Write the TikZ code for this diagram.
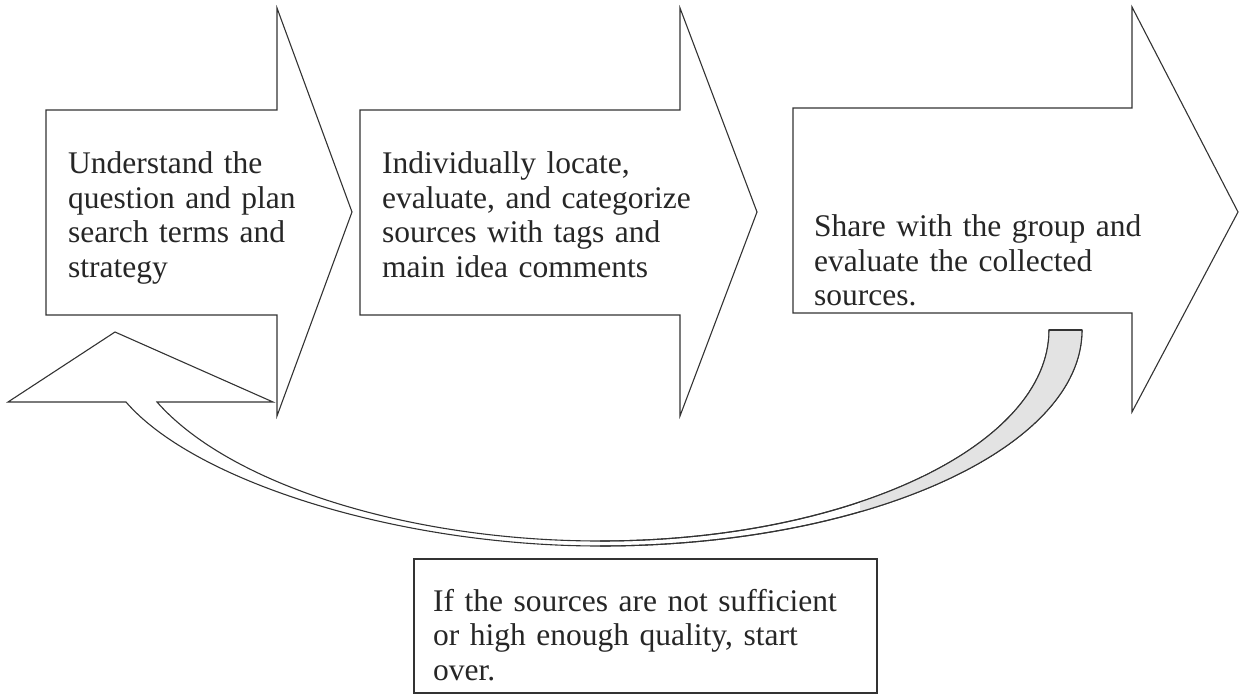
\documentclass[tikz,border=0pt]{standalone}
\usepackage{fontspec}
\setmainfont{Liberation Serif}
\begin{document}
\begin{tikzpicture}[x=1pt,y=-1pt,
  shapeline/.style={draw=black!80, line width=1.1pt, line join=miter, fill=white},
  edgeline/.style={draw=black!80, line width=1.1pt},
  bodytext/.style={anchor=base west, inner sep=0pt, align=left, text width=520pt,
    font=\fontsize{31.5}{34.5}\selectfont, text=black!85}]
\useasboundingbox (0,0) rectangle (1241,700);

% step arrows
\draw[shapeline] (46,110) -- (277,110) -- (277,8) -- (352,212) -- (277,416) -- (277,315) -- (46,315) -- cycle;
\draw[shapeline] (360,110) -- (680,110) -- (680,8) -- (757,212) -- (680,416) -- (680,315) -- (360,315) -- cycle;
\draw[shapeline] (793,108) -- (1132,108) -- (1132,7) -- (1238,212) -- (1132,412) -- (1132,313) -- (793,313) -- cycle;

% curved return arrow
\draw[shapeline] (157,402) .. controls (230,485) and (410,541) .. (600,541)
  .. controls (848,541) and (1049,446) .. (1049,330)
  -- (1082,330)
  .. controls (1082,449) and (866,546) .. (600,546)
  .. controls (400,546) and (195,482) .. (126,402)
  -- (8,402) -- (115,332) -- (273,402) -- cycle;
\begin{scope}
  \clip (860,300) rectangle (1100,560);
  \fill[gray!22] (1049,330) -- (1082,330)
    .. controls (1082,449) and (866,546) .. (600,546)
    -- (600,541) .. controls (848,541) and (1049,446) .. (1049,330) -- cycle;
\end{scope}
\draw[edgeline] (1049,330) .. controls (1049,446) and (848,541) .. (600,541);
\draw[edgeline] (1082,330) .. controls (1082,449) and (866,546) .. (600,546);
\draw[edgeline] (1049,330) -- (1082,330);

% bottom box
\draw[shapeline] (414,559) rectangle (877,693);

% texts
\node[bodytext] (t1) at (68,174) {Understand the\\question and plan\\search terms and\\strategy};
\node[bodytext] (t2) at (382,174) {Individually locate,\\evaluate, and categorize\\sources with tags and\\main idea comments};
\node[bodytext] (t3) at (814,237) {Share with the group and\\evaluate the collected\\sources.};
\node[bodytext] (t4) at (433,611) {If the sources are not sufficient\\or high enough quality, start\\over.};
\end{tikzpicture}
\end{document}
